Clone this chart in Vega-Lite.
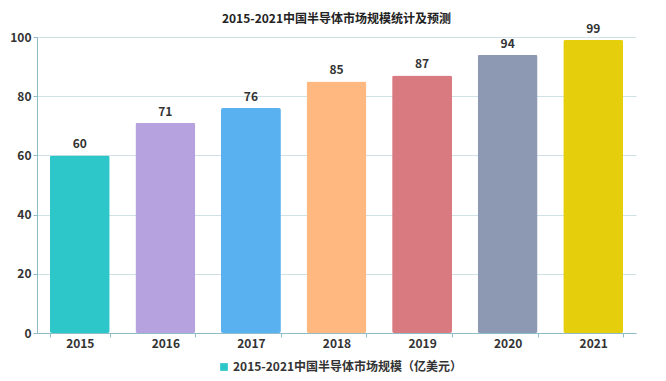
{
  "$schema": "https://vega.github.io/schema/vega-lite/v6.json",
  "autosize": "none",
  "width": 599,
  "height": 296,
  "padding": {"left": 37, "top": 37, "right": 30, "bottom": 48},
  "background": "white",
  "config": {
    "font": "Noto Sans CJK SC",
    "view": {"stroke": null}
  },
  "title": {
    "text": "2015-2021中国半导体市场规模统计及预测",
    "fontSize": 12,
    "fontWeight": "bold",
    "color": "#222222",
    "anchor": "middle",
    "offset": -3
  },
  "data": {
    "values": [
      {"year": "2015", "value": 60},
      {"year": "2016", "value": 71},
      {"year": "2017", "value": 76},
      {"year": "2018", "value": 85},
      {"year": "2019", "value": 87},
      {"year": "2020", "value": 94},
      {"year": "2021", "value": 99}
    ]
  },
  "encoding": {
    "x": {
      "field": "year",
      "type": "nominal",
      "sort": null,
      "scale": {"paddingInner": 0.3, "paddingOuter": 0.15},
      "axis": {
        "title": null,
        "labelAngle": 0,
        "labelFontSize": 12,
        "labelFontWeight": "bold",
        "labelColor": "#333333",
        "labelPadding": 1,
        "domainColor": "#8fbcc6",
        "tickColor": "#8fbcc6",
        "tickBand": "extent",
        "tickSize": 4
      }
    },
    "y": {
      "field": "value",
      "type": "quantitative",
      "scale": {"domain": [0, 100], "nice": false},
      "axis": {
        "title": null,
        "values": [0, 20, 40, 60, 80, 100],
        "labelFontSize": 12,
        "labelFontWeight": "bold",
        "labelColor": "#333333",
        "labelPadding": 2,
        "domainColor": "#8fbcc6",
        "tickColor": "#8fbcc6",
        "tickSize": 4,
        "gridColor": "#cfe1e6",
        "gridWidth": 1
      }
    }
  },
  "layer": [
    {
      "mark": {"type": "bar", "cornerRadius": 2},
      "encoding": {
        "color": {
          "field": "year",
          "type": "nominal",
          "scale": {
            "domain": ["2015", "2016", "2017", "2018", "2019", "2020", "2021"],
            "range": ["#2ec7c9", "#b6a2de", "#5ab1ef", "#ffb980", "#d87a80", "#8d98b3", "#e5cf0d"]
          },
          "legend": {
            "values": ["2015"],
            "labelExpr": "'2015-2021中国半导体市场规模（亿美元）'",
            "title": null,
            "orient": "none",
            "legendX": 181,
            "legendY": 324,
            "symbolType": "square",
            "symbolSize": 60,
            "symbolStrokeWidth": 0,
            "labelFontSize": 12,
            "labelFontWeight": "bold",
            "labelColor": "#333333",
            "labelOffset": 3,
            "labelLimit": 400
          }
        }
      }
    },
    {
      "mark": {
        "type": "text",
        "baseline": "bottom",
        "dy": -4,
        "fontSize": 12,
        "fontWeight": "bold",
        "color": "#333333"
      },
      "encoding": {
        "text": {"field": "value", "type": "quantitative"}
      }
    }
  ]
}
